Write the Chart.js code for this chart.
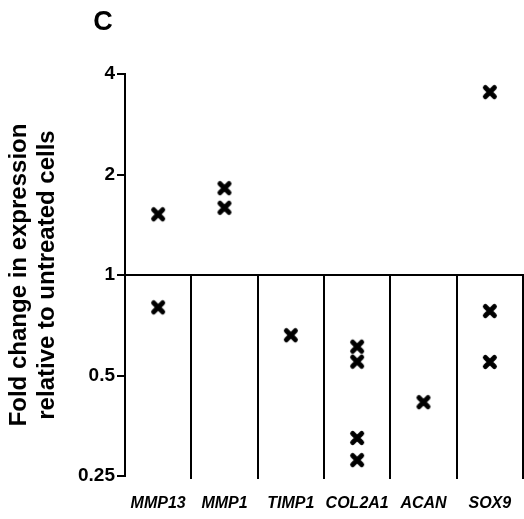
<!DOCTYPE html>
<html>
<head>
<meta charset="utf-8">
<script src="https://cdn.jsdelivr.net/npm/chart.js@4/dist/chart.umd.min.js"></script>
<style>
  html, body { margin: 0; padding: 0; background: #fff; overflow: hidden; }
  canvas { display: block; }
</style>
</head>
<body>
<canvas id="c" width="524" height="519"></canvas>
<script>
// Genes on the x axis
const genes = ['MMP13', 'MMP1', 'TIMP1', 'COL2A1', 'ACAN', 'SOX9'];

// Fold change in expression relative to untreated cells, one array per gene
const mmp13 = [1.52, 0.80];
const mmp1 = [1.82, 1.59];
const timp1 = [0.66];
const col2a1 = [0.61, 0.55, 0.325, 0.279];
const acan = [0.416];
const sox9 = [3.53, 0.78, 0.549];

// Log2 y axis ticks
const yTicks = [0.25, 0.5, 1, 2, 4];
const yTickLabels = ['0.25', '0.5', '1', '2', '4'];

const seriesByGene = [mmp13, mmp1, timp1, col2a1, acan, sox9];
const points = [];
genes.forEach((g, i) => seriesByGene[i].forEach(v => points.push({ x: g, y: v })));

// Bold "x" marker with rounded stroke ends
function makeCross() {
  const c = document.createElement('canvas');
  c.width = 18; c.height = 18;
  const ctx = c.getContext('2d');
  ctx.strokeStyle = '#000';
  ctx.lineWidth = 5;
  ctx.lineCap = 'round';
  ctx.beginPath();
  ctx.moveTo(4.5, 4.5); ctx.lineTo(13.5, 13.5);
  ctx.moveTo(13.5, 4.5); ctx.lineTo(4.5, 13.5);
  ctx.stroke();
  return c;
}
const cross = makeCross();

const FONT = '"Liberation Sans", Arial, Helvetica, sans-serif';

// Reference line at 1, gene separators below it, and panel letter
const decorations = {
  id: 'decorations',
  beforeDatasetsDraw(chart) {
    const { ctx, chartArea, scales } = chart;
    const xs = scales.x, ys = scales.y;
    const y1 = ys.getPixelForValue(1);
    ctx.save();
    ctx.strokeStyle = '#000';
    ctx.lineWidth = 2;
    ctx.beginPath();
    ctx.moveTo(chartArea.left, y1);
    ctx.lineTo(chartArea.right + 1, y1);
    const n = genes.length;
    for (let i = 0; i < n; i++) {
      const a = xs.getPixelForTick(i);
      const b = i < n - 1 ? xs.getPixelForTick(i + 1) : a + (a - xs.getPixelForTick(i - 1));
      const xb = Math.round((a + b) / 2);
      ctx.moveTo(xb, y1);
      ctx.lineTo(xb, chartArea.bottom + 3);
    }
    ctx.stroke();
    ctx.restore();
  },
  afterDraw(chart) {
    const ctx = chart.ctx;
    ctx.save();
    ctx.fillStyle = '#000';
    ctx.font = 'bold 27px ' + FONT;
    ctx.textAlign = 'center';
    ctx.textBaseline = 'middle';
    ctx.fillText('C', 103, 23);
    ctx.restore();
  }
};

new Chart(document.getElementById('c'), {
  type: 'scatter',
  data: {
    labels: genes,
    datasets: [{
      data: points,
      pointStyle: cross,
      pointRadius: 8,
      pointHoverRadius: 8
    }]
  },
  plugins: [decorations],
  options: {
    responsive: false,
    animation: false,
    events: [],
    layout: { autoPadding: false, padding: { top: 74, left: 0, right: 1, bottom: 0 } },
    plugins: { legend: { display: false }, tooltip: { enabled: false } },
    scales: {
      x: {
        type: 'category',
        labels: genes,
        offset: true,
        grid: { display: false },
        border: { display: false },
        ticks: {
          color: '#000',
          autoSkip: false,
          maxRotation: 0,
          padding: 10,
          font: { family: FONT, size: 16, weight: 'bold', style: 'italic' }
        },
        afterFit(scale) {
          scale.height = 43;
          scale.paddingLeft = 0;
          scale.paddingRight = 0;
        }
      },
      y: {
        type: 'logarithmic',
        min: 0.25,
        max: 4,
        afterBuildTicks(scale) { scale.ticks = yTicks.map(v => ({ value: v })); },
        grid: {
          drawOnChartArea: false,
          drawTicks: true,
          tickLength: 8,
          color: '#000',
          lineWidth: 2
        },
        border: { display: true, color: '#000', width: 2 },
        ticks: {
          color: '#000',
          padding: 2,
          font: { family: FONT, size: 19, weight: 'bold' },
          callback(value, index) { return yTickLabels[index]; }
        },
        title: {
          display: true,
          text: ['Fold change in expression', 'relative to untreated cells'],
          color: '#000',
          font: { family: FONT, size: 24, weight: 'bold', lineHeight: 1.167 },
          padding: { top: 5, bottom: 0 }
        },
        afterFit(scale) { scale.width = 125; }
      }
    }
  }
});
</script>
</body>
</html>
